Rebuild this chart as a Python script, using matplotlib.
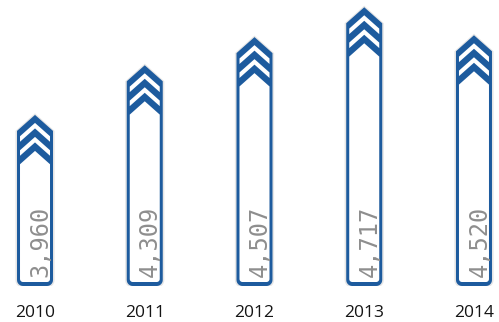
import matplotlib
matplotlib.use('Agg')
import matplotlib.pyplot as plt
from matplotlib.patches import Polygon
import numpy as np

# ---- data ----
years = ['2010', '2011', '2012', '2013', '2014']
values = [3960, 4309, 4507, 4717, 4520]
value_labels = [f"{v:,}" for v in values]

# value axis range (bars rise from the axis floor)
axis_floor = 2757
axis_ceiling = 4768

BLUE = '#1d5b9e'
TEXT_GREY = '#8e8e8e'
YEAR_COLOR = '#151515'
SHADOW = '#e6e6e6'

W_PX, H_PX = 499, 322
fig = plt.figure(figsize=(W_PX / 100, H_PX / 100), dpi=100)
ax_bottom_px = 36
ax = fig.add_axes([0, ax_bottom_px / H_PX, 1, (H_PX - ax_bottom_px) / H_PX])
xlim = (-0.319, 4.228)
ax.set_xlim(*xlim)
ax.set_ylim(axis_floor, axis_ceiling)
ax.axis('off')

ux = (xlim[1] - xlim[0]) / W_PX                       # data-x per pixel
uy = (axis_ceiling - axis_floor) / (H_PX - ax_bottom_px)  # value per pixel

# shape style (pixels)
hw = 18      # half width
head = 16    # height of pointed head
side = 3     # side stroke
bot = 4      # bottom stroke
rad = 6      # bottom corner radius
white_bands = [(8, 13.5), (22, 27.5)]
body_start = 36


def arc(cx, cy, r, a0, a1, n=8):
    a = np.radians(np.linspace(a0, a1, n))
    return [(cx + r * np.cos(t), cy + r * np.sin(t)) for t in a]


def to_data(i, pts):
    return [(i + x * ux, axis_floor + y * uy) for x, y in pts]


def outer_shape(h, grow=0.0):
    w = hw + grow
    r = rad + grow
    pts = []
    pts += arc(-w + r, r - grow, r, 180, 270)
    pts += arc(w - r, r - grow, r, 270, 360)
    pts += [(w, h - head), (0, h + grow), (-w, h - head)]
    return pts


for i, v in enumerate(values):
    h = (v - axis_floor) / uy   # bar height in pixels

    # faint shadow
    ax.add_patch(Polygon(to_data(i, outer_shape(h, grow=1.6)), closed=True,
                         facecolor=SHADOW, edgecolor='none', zorder=1))
    # blue outer shape
    ax.add_patch(Polygon(to_data(i, outer_shape(h)), closed=True,
                         facecolor=BLUE, edgecolor='none', zorder=2))

    iw = hw - side
    drop = head * iw / hw
    # white chevron bands
    for t1, t2 in white_bands:
        pts = [(-iw, h - t1 - drop), (0, h - t1), (iw, h - t1 - drop),
               (iw, h - t2 - drop), (0, h - t2), (-iw, h - t2 - drop)]
        ax.add_patch(Polygon(to_data(i, pts), closed=True,
                             facecolor='white', edgecolor='none', zorder=3))
    # white body
    ir = max(rad - side, 2)
    pts = [(-iw, h - body_start - drop), (0, h - body_start), (iw, h - body_start - drop)]
    pts += arc(iw - ir, bot + ir, ir, 0, -90)
    pts += arc(-iw + ir, bot + ir, ir, 270, 180)
    ax.add_patch(Polygon(to_data(i, pts), closed=True,
                         facecolor='white', edgecolor='none', zorder=3))

    # value label, rotated
    ax.text(i + 5.5 * ux, axis_floor + 8.5 * uy, value_labels[i], rotation=90,
            rotation_mode='anchor', ha='left', va='center',
            fontsize=17, family='DejaVu Sans Mono', color=TEXT_GREY, zorder=4)

    # year label
    ax.text(i, axis_floor - 27 * uy, years[i], ha='center', va='center',
            fontsize=12.5, family='Open Sans', color=YEAR_COLOR, clip_on=False)

fig.savefig('out.png', dpi=100, facecolor='white')
